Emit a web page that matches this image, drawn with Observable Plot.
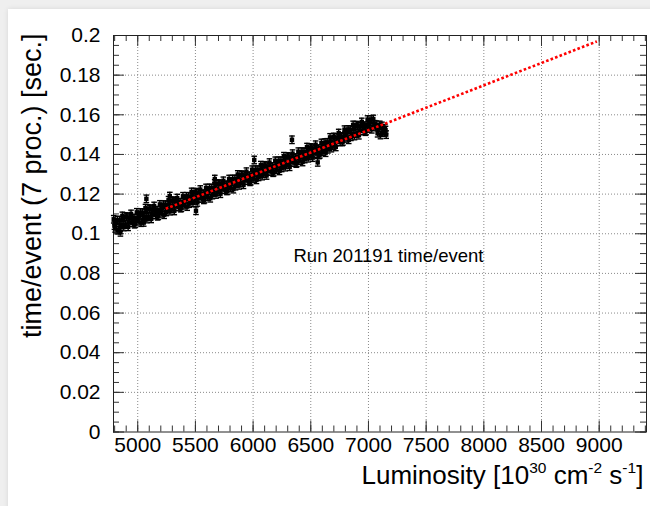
<!DOCTYPE html>
<html><head><meta charset="utf-8">
<script src="https://cdn.jsdelivr.net/npm/d3@7"></script>
<script src="https://cdn.jsdelivr.net/npm/@observablehq/plot@0.6"></script>
<style>
html,body{margin:0;padding:0;background:#efefef;width:650px;height:506px;overflow:hidden;color:#000;}
#card{position:absolute;left:8px;top:9px;width:700px;height:560px;background:#fff;box-shadow:0 0 5px rgba(0,0,0,0.10);}
#chart{position:absolute;left:0;top:0;}
</style></head>
<body><div id="card"></div><div id="chart"></div>
<script>
// ---- data ----
const luminosity = [
4792,4804,4817,4829,4842,4854,4867,4879, 4892,4904,4917,4929,4942,4954,4967,4979,
4992,5004,5017,5029,5042,5054,5067,5079, 5092,5104,5117,5129,5142,5154,5167,5179,
5192,5204,5217,5229,5242,5254,5267,5279, 5292,5304,5317,5329,5342,5354,5367,5379,
5392,5404,5417,5429,5442,5454,5467,5479, 5492,5504,5517,5529,5542,5554,5567,5579,
5592,5604,5617,5629,5642,5654,5667,5679, 5692,5704,5717,5729,5742,5754,5767,5779,
5792,5804,5817,5829,5842,5854,5867,5879, 5892,5904,5917,5929,5942,5954,5967,5979,
5992,6004,6017,6029,6042,6054,6067,6079, 6092,6104,6117,6129,6142,6154,6167,6179,
6192,6204,6217,6229,6242,6254,6267,6279, 6292,6304,6317,6329,6342,6354,6367,6379,
6392,6404,6417,6429,6442,6454,6467,6479, 6492,6504,6517,6529,6542,6554,6567,6579,
6592,6604,6617,6629,6642,6654,6667,6679, 6692,6704,6717,6729,6742,6754,6767,6779,
6792,6804,6817,6829,6842,6854,6867,6879, 6892,6904,6917,6929,6942,6954,6967,6979,
6992,7004,7017,7029,7042,7054,7067,7079, 7092,7104,7117,7129,7142,7154,
4798,4823,4848,4873, 4898,4923,4948,4973, 4998,5023,5048,5073, 5098,5123,5148,5173,
5198,5223,5248,5273, 5298,5323,5348,5373, 5398,5423,5448,5473, 5498,5523,5548,5573,
5598,5623,5648,5673, 5698,5723,5748,5773, 5798,5823,5848,5873, 5898,5923,5948,5973,
5998,6023,6048,6073, 6098,6123,6148,6173, 6198,6223,6248,6273, 6298,6323,6348,6373,
6398,6423,6448,6473, 6498,6523,6548,6573, 6598,6623,6648,6673, 6698,6723,6748,6773,
6798,6823,6848,6873, 6898,6923,6948,6973, 6998,7023,7048,7073, 7098,7123,7148,
4850,5052,5075,5278,5505,5668,6010,6337,6560];
const timePerEvent = [
0.1073,0.1027,0.1056,0.1018,0.1068,0.1046,0.1090,0.1034, 0.1046,0.1085,0.1035,0.1080,0.1100,0.1055,0.1079,0.1052,
0.1108,0.1063,0.1093,0.1056,0.1106,0.1085,0.1129,0.1074, 0.1085,0.1125,0.1075,0.1120,0.1140,0.1095,0.1119,0.1092,
0.1148,0.1103,0.1133,0.1096,0.1146,0.1125,0.1169,0.1114, 0.1125,0.1165,0.1115,0.1160,0.1180,0.1135,0.1159,0.1132,
0.1189,0.1144,0.1174,0.1137,0.1188,0.1167,0.1211,0.1156, 0.1168,0.1208,0.1158,0.1203,0.1223,0.1178,0.1202,0.1175,
0.1231,0.1186,0.1217,0.1179,0.1230,0.1209,0.1254,0.1198, 0.1211,0.1251,0.1202,0.1246,0.1267,0.1222,0.1247,0.1219,
0.1276,0.1231,0.1262,0.1225,0.1276,0.1254,0.1299,0.1244, 0.1256,0.1296,0.1247,0.1292,0.1313,0.1268,0.1293,0.1266,
0.1323,0.1278,0.1309,0.1272,0.1323,0.1301,0.1346,0.1291, 0.1303,0.1343,0.1294,0.1338,0.1359,0.1314,0.1339,0.1311,
0.1368,0.1323,0.1354,0.1317,0.1368,0.1346,0.1391,0.1336, 0.1348,0.1388,0.1338,0.1383,0.1404,0.1359,0.1384,0.1357,
0.1414,0.1369,0.1400,0.1362,0.1413,0.1392,0.1437,0.1381, 0.1393,0.1433,0.1384,0.1428,0.1449,0.1404,0.1429,0.1401,
0.1458,0.1413,0.1445,0.1409,0.1461,0.1440,0.1486,0.1432, 0.1444,0.1486,0.1438,0.1485,0.1508,0.1464,0.1491,0.1466,
0.1525,0.1481,0.1512,0.1474,0.1525,0.1504,0.1549,0.1493, 0.1505,0.1545,0.1497,0.1542,0.1564,0.1519,0.1545,0.1518,
0.1576,0.1531,0.1563,0.1527,0.1579,0.1552,0.1550,0.1507, 0.1535,0.1498,0.1544,0.1512,0.1532,0.1500,
0.1041,0.1069,0.1032,0.1069, 0.1087,0.1056,0.1076,0.1048, 0.1078,0.1107,0.1070,0.1108, 0.1127,0.1096,0.1116,0.1088,
0.1118,0.1147,0.1110,0.1148, 0.1167,0.1137,0.1157,0.1129, 0.1159,0.1189,0.1152,0.1191, 0.1210,0.1179,0.1199,0.1171,
0.1201,0.1231,0.1195,0.1234, 0.1253,0.1223,0.1243,0.1216, 0.1246,0.1276,0.1240,0.1279, 0.1298,0.1268,0.1289,0.1262,
0.1293,0.1323,0.1287,0.1326, 0.1345,0.1315,0.1335,0.1308, 0.1338,0.1368,0.1332,0.1371, 0.1390,0.1360,0.1381,0.1354,
0.1384,0.1414,0.1377,0.1416, 0.1435,0.1405,0.1425,0.1398, 0.1429,0.1460,0.1426,0.1466, 0.1488,0.1462,0.1486,0.1463,
0.1496,0.1526,0.1489,0.1528, 0.1548,0.1519,0.1541,0.1515, 0.1545,0.1576,0.1542,0.1538, 0.1549,0.1510,0.1523,
0.1007,0.1057,0.1176,0.1190,0.1116,0.1276,0.1372,0.1474,0.1360];
const timeError = 0.0019;
const fitLuminosity = [5243, 8980];
const fitTime = [0.1126, 0.1970];
const xMajorTicks = [5000,5500,6000,6500,7000,7500,8000,8500,9000];
const xMinorTicks = [4800,4900,5000,5100,5200,5300,5400,5500,5600,5700,5800,5900,6000,6100,6200,6300,6400,6500,6600,6700,6800,6900,7000,7100,7200,7300,7400,7500,7600,7700,7800,7900,8000,8100,8200,8300,8400,8500,8600,8700,8800,8900,9000,9100,9200,9300,9400];
const yMajorTicks = [0,0.02,0.04,0.06,0.08,0.1,0.12,0.14,0.16,0.18,0.2];
const yMinorTicks = [0,0.005,0.01,0.015,0.02,0.025,0.03,0.035,0.04,0.045,0.05,0.055,0.06,0.065,0.07,0.075,0.08,0.085,0.09,0.095,0.1,0.105,0.11,0.115,0.12,0.125,0.13,0.135,0.14,0.145,0.15,0.155,0.16,0.165,0.17,0.175,0.18,0.185,0.19,0.195,0.2];
const runLabel = ["Run 201191 time/event"];
const yTitle = "time/event (7 proc.) [sec.]";
const xTitleParts = [["Luminosity [10", false], ["30", true], [" cm", false], ["-2", true], [" s", false], ["-1", true], ["]", false]];

// ---- layout ----
const W = 650, H = 506, mL = 113, mR = 4, mT = 35, mB = 74.5;
const innerH = H - mT - mB, innerW = W - mL - mR;
const font = "'Liberation Sans', Arial, Helvetica, sans-serif";

const points = luminosity.map((x, i) => ({x, y: timePerEvent[i], lo: timePerEvent[i] - timeError, hi: timePerEvent[i] + timeError}));
const fit = fitLuminosity.map((x, i) => ({x, y: fitTime[i]}));
const cap = {draw(ctx) { ctx.moveTo(-2.8, 0); ctx.lineTo(2.8, 0); }};
const tickColor = "#333";
const gridStyle = {stroke: "#8a8a8a", strokeWidth: 1, strokeDasharray: "1,2"};

const chart = Plot.plot({
  width: W, height: H,
  marginLeft: mL, marginRight: mR, marginTop: mT, marginBottom: mB,
  style: {background: "transparent", fontFamily: font, overflow: "visible", color: "#000"},
  x: {domain: [4790, 9410]},
  y: {domain: [0, 0.2]},
  marks: [
    Plot.ruleX(xMajorTicks, {x: d => d, ...gridStyle}),
    Plot.ruleY(yMajorTicks.slice(1, -1), {y: d => d, ...gridStyle}),
    // inward ticks: bottom & top
    Plot.tickX(xMinorTicks, {x: d => d, insetTop: innerH - 6, stroke: tickColor}),
    Plot.tickX(xMajorTicks, {x: d => d, insetTop: innerH - 11, stroke: tickColor}),
    Plot.tickX(xMinorTicks, {x: d => d, insetBottom: innerH - 6, stroke: tickColor}),
    Plot.tickX(xMajorTicks, {x: d => d, insetBottom: innerH - 11, stroke: tickColor}),
    // inward ticks: left & right
    Plot.tickY(yMinorTicks, {y: d => d, insetRight: innerW - 6, stroke: tickColor}),
    Plot.tickY(yMajorTicks, {y: d => d, insetRight: innerW - 11, stroke: tickColor}),
    Plot.tickY(yMinorTicks, {y: d => d, insetLeft: innerW - 6, stroke: tickColor}),
    Plot.tickY(yMajorTicks, {y: d => d, insetLeft: innerW - 11, stroke: tickColor}),
    Plot.frame({stroke: "#222"}),
    // data with error bars
    Plot.ruleX(points, {x: "x", y1: "lo", y2: "hi", stroke: "#000", strokeWidth: 1.4}),
    Plot.dot(points, {x: "x", y: "lo", symbol: cap, stroke: "#000", fill: "none", strokeWidth: 1.4}),
    Plot.dot(points, {x: "x", y: "hi", symbol: cap, stroke: "#000", fill: "none", strokeWidth: 1.4}),
    Plot.dot(points, {x: "x", y: "y", symbol: "square", r: 2.5, fill: "#000", stroke: "none"}),
    // fit line
    Plot.line(fit, {x: "x", y: "y", stroke: "#ff0000", strokeWidth: 2.6, strokeDasharray: "2.6,2.2", strokeLinecap: "butt"}),
    // axes labels
    Plot.axisX(xMajorTicks, {tickSize: 0, tickPadding: 5, fontSize: 21, tickFormat: d => String(d), label: null, fill: "#000"}),
    Plot.axisY(yMajorTicks, {tickSize: 0, tickPadding: 13, fontSize: 21, tickFormat: d => String(d), label: null, fill: "#000"}),
    // annotation
    Plot.text(runLabel, {frameAnchor: "top-left", dx: 180, dy: 226, textAnchor: "start", lineAnchor: "bottom", fontSize: 18.5, fill: "#000"}),
    // y title
    Plot.text([yTitle], {frameAnchor: "top-left", dx: -73, dy: -2, rotate: -90, textAnchor: "end", lineAnchor: "bottom", fontSize: 27, fill: "#000"}),
    // x title (superscripts filled in below)
    Plot.text(["XTITLE"], {frameAnchor: "bottom-left", dx: 361 - mL, dy: 52, textAnchor: "start", lineAnchor: "bottom", fontSize: 26, fill: "#000"})
  ]
});
document.getElementById("chart").appendChild(chart);

// build x title with real superscripts
d3.select(chart).selectAll("text").filter(function() { return this.textContent === "XTITLE"; }).each(function() {
  const t = d3.select(this);
  t.text(null);
  let raised = false;
  for (const [str, sup] of xTitleParts) {
    const sp = t.append("tspan").text(str);
    if (sup && !raised) { sp.attr("dy", -11).attr("font-size", 15.5); raised = true; }
    else if (sup) { sp.attr("font-size", 15.5); }
    else if (raised) { sp.attr("dy", 11); raised = false; }
  }
});
</script>
</body></html>
